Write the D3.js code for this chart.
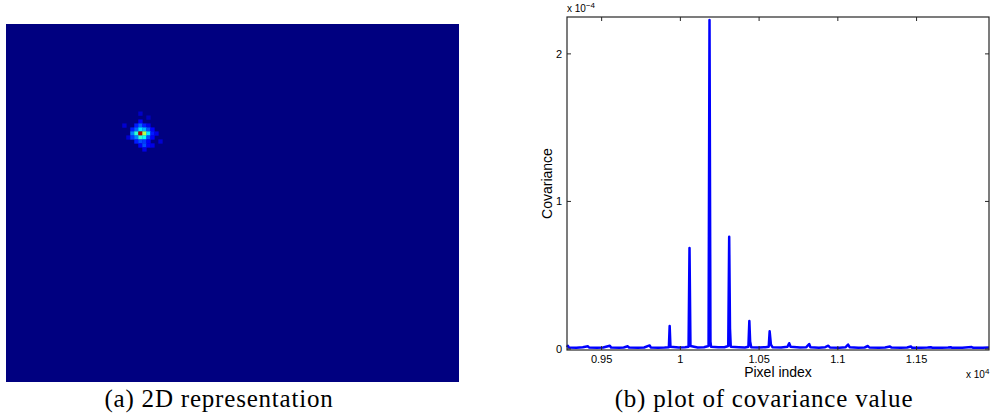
<!DOCTYPE html>
<html>
<head>
<meta charset="utf-8">
<script src="https://cdn.jsdelivr.net/npm/d3@7"></script>
<style>
  body { margin: 0; background: #fff; }
  svg { display: block; }
  .tick-label { font-family: "Liberation Sans", Arial, sans-serif; font-size: 11px; fill: #000; }
  .axis-label { font-family: "Liberation Sans", Arial, sans-serif; font-size: 14px; fill: #000; }
  .caption { font-family: "Liberation Serif", "DejaVu Serif", serif; font-size: 25px; letter-spacing: 0.8px; fill: #000; }
</style>
</head>
<body>
<svg id="chart" width="991" height="417"></svg>
<script>
// heatmap: grid size and the non-zero cells [col, row, value]
const gridCols = 113;
const gridRows = 90;
const blobCells = [
  [33, 22, 0.07], [35, 23, 0.06], [33, 24, 0.12],
  [29, 25, 0.08], [32, 25, 0.15], [33, 25, 0.22], [34, 25, 0.15], [35, 25, 0.1],
  [31, 26, 0.15], [32, 26, 0.22], [33, 26, 0.35], [34, 26, 0.3], [35, 26, 0.2], [36, 26, 0.12],
  [31, 27, 0.25], [32, 27, 0.42], [33, 27, 0.95], [34, 27, 0.55], [35, 27, 0.35], [36, 27, 0.15], [37, 27, 0.1],
  [30, 28, 0.08], [31, 28, 0.18], [32, 28, 0.25], [33, 28, 0.42], [34, 28, 0.38], [35, 28, 0.2], [36, 28, 0.12],
  [32, 29, 0.15], [33, 29, 0.2], [34, 29, 0.18], [35, 29, 0.12], [38, 29, 0.08],
  [33, 30, 0.12], [34, 30, 0.2], [35, 30, 0.12], [36, 30, 0.1],
  [34, 31, 0.1]
];

// covariance plot (index, value in units of 1e-4)
const covIndex = [
  9280, 9286, 9292, 9340, 9380, 9413, 9420, 9470, 9510, 9552, 9560, 9610, 9640, 9666, 9674,
  9730, 9770, 9805, 9812, 9860, 9900, 9927, 9932, 9937, 9990, 10030, 10052, 10058, 10064,
  10110, 10150, 10179, 10185, 10191, 10195, 10240, 10280, 10304, 10310, 10315, 10320,
  10370, 10410, 10432, 10438, 10443, 10450, 10500, 10540, 10561, 10567, 10575, 10585,
  10640, 10680, 10691, 10700, 10760, 10800, 10818, 10826, 10880, 10920, 10940, 10950,
  11010, 11050, 11065, 11075, 11130, 11170, 11191, 11200, 11260, 11300, 11331, 11340,
  11400, 11440, 11464, 11472, 11530, 11570, 11590, 11600, 11660, 11700, 11717, 11725,
  11790, 11830, 11850, 11860, 11920, 11960
];
const covValue = [
  0.012, 0.022, 0.01, 0.008, 0.012, 0.018, 0.01, 0.008, 0.01, 0.022, 0.01, 0.008, 0.01, 0.018, 0.01,
  0.008, 0.01, 0.024, 0.01, 0.008, 0.01, 0.012, 0.156, 0.015, 0.01, 0.012, 0.015, 0.685, 0.02,
  0.01, 0.012, 0.02, 2.23, 0.05, 0.015, 0.012, 0.012, 0.02, 0.76, 0.14, 0.015,
  0.012, 0.01, 0.015, 0.19, 0.05, 0.012, 0.01, 0.012, 0.015, 0.12, 0.03, 0.012,
  0.01, 0.015, 0.039, 0.015, 0.01, 0.012, 0.034, 0.012, 0.008, 0.012, 0.022, 0.01,
  0.008, 0.012, 0.03, 0.012, 0.008, 0.01, 0.02, 0.01, 0.008, 0.01, 0.017, 0.01,
  0.008, 0.01, 0.017, 0.008, 0.008, 0.01, 0.012, 0.008, 0.008, 0.01, 0.012, 0.008,
  0.008, 0.012, 0.013, 0.008, 0.008, 0.01
];
const xTicks = [9500, 10000, 10500, 11000, 11500];
const xTickLabels = ['0.95', '1', '1.05', '1.1', '1.15'];
const yTicks = [0, 1, 2];
const yTickLabels = ['0', '1', '2'];

const svg = d3.select('#chart');

// jet colormap like matlab
function jet(v) {
  const c = t => Math.max(0, Math.min(1, t));
  const r = c(1.5 - Math.abs(4 * v - 3));
  const g = c(1.5 - Math.abs(4 * v - 2));
  const b = c(1.5 - Math.abs(4 * v - 1));
  return d3.rgb(r * 255, g * 255, b * 255);
}

// ---- (a) heatmap ----
const hx = d3.scaleLinear().domain([0, gridCols]).range([6, 459]);
const hy = d3.scaleLinear().domain([0, gridRows]).range([24, 382]);
const color = d3.scaleSequential(jet).domain([0, 1]);

svg.append('rect')
  .attr('x', hx(0))
  .attr('y', hy(0))
  .attr('width', hx(gridCols) - hx(0))
  .attr('height', hy(gridRows) - hy(0))
  .attr('fill', color(0));

svg.append('g').selectAll('rect')
  .data(blobCells)
  .enter()
  .append('rect')
  .attr('x', d => hx(d[0]))
  .attr('y', d => hy(d[1]))
  .attr('width', hx(1) - hx(0) + 0.3)
  .attr('height', hy(1) - hy(0) + 0.3)
  .attr('fill', d => color(d[2]));

svg.append('text')
  .attr('class', 'caption')
  .attr('x', 219)
  .attr('y', 407)
  .attr('text-anchor', 'middle')
  .text('(a) 2D representation');

// ---- (b) covariance plot ----
const pLeft = 567, pRight = 989, pTop = 17, pBottom = 350;
const x = d3.scaleLinear().domain([9280, 11960]).range([pLeft, pRight]);
const y = d3.scaleLinear().domain([-0.007, 2.25]).range([pBottom, pTop]);

const pts = covIndex.map((d, i) => [d, covValue[i]]);

const line = d3.line()
  .x(d => x(d[0]))
  .y(d => y(d[1]));

svg.append('path')
  .datum(pts)
  .attr('d', line)
  .attr('fill', 'none')
  .attr('stroke', '#0000ff')
  .attr('stroke-width', 2.5)
  .attr('stroke-linejoin', 'round');

// frame
svg.append('rect')
  .attr('x', pLeft)
  .attr('y', pTop)
  .attr('width', pRight - pLeft)
  .attr('height', pBottom - pTop)
  .attr('fill', 'none')
  .attr('stroke', '#262626')
  .attr('stroke-width', 1.2);

// ticks (inward, all four sides)
const tickLen = 4;
const ticks = svg.append('g').attr('stroke', '#262626').attr('stroke-width', 1);
xTicks.forEach(t => {
  ticks.append('line').attr('x1', x(t)).attr('x2', x(t)).attr('y1', pBottom).attr('y2', pBottom - tickLen);
  ticks.append('line').attr('x1', x(t)).attr('x2', x(t)).attr('y1', pTop).attr('y2', pTop + tickLen);
});
yTicks.forEach(t => {
  ticks.append('line').attr('x1', pLeft).attr('x2', pLeft + tickLen).attr('y1', y(t)).attr('y2', y(t));
  ticks.append('line').attr('x1', pRight).attr('x2', pRight - tickLen).attr('y1', y(t)).attr('y2', y(t));
});

svg.append('g').selectAll('text')
  .data(xTicks)
  .enter()
  .append('text')
  .attr('class', 'tick-label')
  .attr('x', d => x(d))
  .attr('y', 363)
  .attr('text-anchor', 'middle')
  .text((d, i) => xTickLabels[i]);

svg.append('g').selectAll('text')
  .data(yTicks)
  .enter()
  .append('text')
  .attr('class', 'tick-label')
  .attr('x', pLeft - 5)
  .attr('y', d => y(d) + 4)
  .attr('text-anchor', 'end')
  .text((d, i) => yTickLabels[i]);

// exponent labels
const topExp = svg.append('text').attr('class', 'tick-label').attr('x', pLeft).attr('y', 12).style('font-size', '10px');
topExp.append('tspan').text('x 10');
topExp.append('tspan').attr('dy', -4).style('font-size', '8px').text('\u22124');

const botExp = svg.append('text').attr('class', 'tick-label').attr('x', 966).attr('y', 378).style('font-size', '10px');
botExp.append('tspan').text('x 10');
botExp.append('tspan').attr('dy', -4).style('font-size', '8px').text('4');

svg.append('text')
  .attr('class', 'axis-label')
  .attr('x', (pLeft + pRight) / 2)
  .attr('y', 377)
  .attr('text-anchor', 'middle')
  .text('Pixel index');

svg.append('text')
  .attr('class', 'axis-label')
  .attr('transform', 'translate(552,' + ((pTop + pBottom) / 2) + ') rotate(-90)')
  .attr('text-anchor', 'middle')
  .text('Covariance');

svg.append('text')
  .attr('class', 'caption')
  .attr('x', 764)
  .attr('y', 407)
  .attr('text-anchor', 'middle')
  .text('(b) plot of covariance value');
</script>
</body>
</html>
